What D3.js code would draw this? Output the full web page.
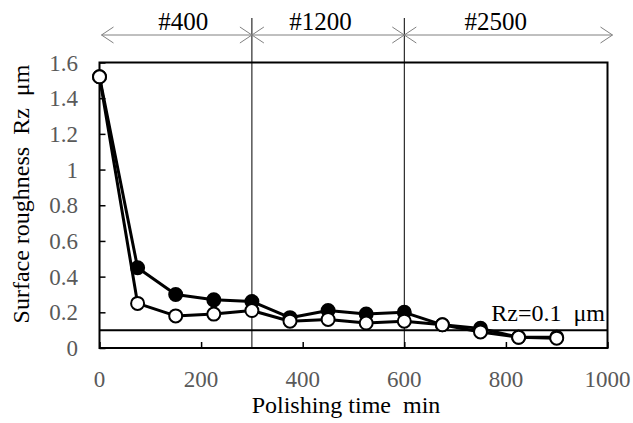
<!DOCTYPE html>
<html><head><meta charset="utf-8">
<script src="https://cdn.jsdelivr.net/npm/d3@7"></script>
<style>
html,body{margin:0;padding:0;background:#fff;}
svg text{font-family:'Liberation Serif','Times New Roman',Times,'DejaVu Serif',serif;white-space:pre;}
</style></head>
<body>
<svg id="c" width="633" height="423" style="display:block"></svg>
<script>
const times = [0,75,150,225,300,375,450,525,600,675,750,825,900];
const filledSeries = [1.52,0.45,0.30,0.27,0.26,0.17,0.21,0.19,0.20,0.13,0.11,0.06,0.06];
const openSeries = [1.52,0.25,0.18,0.19,0.21,0.15,0.16,0.14,0.15,0.13,0.09,0.06,0.055];
const xTicks = [0,200,400,600,800,1000];
const yTicks = [0,0.2,0.4,0.6,0.8,1,1.2,1.4,1.6];
const stageBounds = [0,300,600,1000];
const stageLabels = ["#400","#1200","#2500"];
const stageLabelPos = [165,435,780];
const refLevel = 0.1;
const refLabel = "Rz=0.1  \u03bcm";
const xTitle = "Polishing time  min";
const yTitle = "Surface roughness  Rz  \u03bcm";

const svg = d3.select("#c");
const x = d3.scaleLinear().domain([0,1000]).range([99.5,607.5]);
const y = d3.scaleLinear().domain([0,1.6]).range([348,62.5]);
const FT = 23, FL = 25, FA = 24;

svg.selectAll("line.sep").data(stageBounds.slice(1,3)).enter().append("line")
  .attr("x1",d=>x(d)).attr("x2",d=>x(d)).attr("y1",18).attr("y2",y(0))
  .attr("stroke","#000").attr("stroke-width",1);

const ay = 35;
const grey = "#808080";
stageBounds.slice(0,3).forEach((s,i)=>{
  const e = stageBounds[i+1];
  const x1 = x(s)+ (i===0?2:0), x2 = x(e) + (i===2?5:0);
  const g = svg.append("g").attr("stroke",grey).attr("stroke-width",1).attr("fill","none");
  g.append("line").attr("x1",x1).attr("x2",x2).attr("y1",ay).attr("y2",ay);
  g.append("path").attr("d",`M${x1+12},${ay-8}L${x1},${ay}L${x1+12},${ay+8}`);
  g.append("path").attr("d",`M${x2-12},${ay-8}L${x2},${ay}L${x2-12},${ay+8}`);
  svg.append("text").attr("x",x(stageLabelPos[i])).attr("y",30)
    .attr("text-anchor","middle").attr("font-size",FL).attr("fill","#000").text(stageLabels[i]);
});

svg.append("line").attr("x1",x(0)).attr("x2",x(1000)).attr("y1",y(refLevel)).attr("y2",y(refLevel))
  .attr("stroke","#000").attr("stroke-width",2);
svg.append("text").attr("x",605).attr("y",y(refLevel)-9).attr("text-anchor","end")
  .attr("font-size",FA).attr("fill","#000").text(refLabel);

svg.append("rect").attr("x",x(0)).attr("y",y(1.6)).attr("width",x(1000)-x(0)).attr("height",y(0)-y(1.6))
  .attr("fill","none").attr("stroke","#000").attr("stroke-width",2);

const xAxis = svg.append("g").attr("transform",`translate(0,${y(0)})`)
  .call(d3.axisTop(x).tickValues(xTicks).tickSize(6).tickFormat(""));
xAxis.select(".domain").remove();
xAxis.selectAll("line").attr("stroke","#000").attr("stroke-width",1.5);
svg.selectAll("text.xt").data(xTicks).enter().append("text").attr("class","xt")
  .attr("x",d=>x(d)).attr("y",387).attr("text-anchor","middle").attr("font-size",FT)
  .attr("fill","#595959").text(d=>d);

const yAxis = svg.append("g").attr("transform",`translate(${x(0)},0)`)
  .call(d3.axisRight(y).tickValues(yTicks).tickSize(6).tickFormat(""));
yAxis.select(".domain").remove();
yAxis.selectAll("line").attr("stroke","#000").attr("stroke-width",1.5);
svg.selectAll("text.yt").data(yTicks).enter().append("text").attr("class","yt")
  .attr("x",78).attr("y",d=>y(d)).attr("dy","0.35em").attr("text-anchor","end").attr("font-size",FT)
  .attr("fill","#595959").text(d=>d===0||d===1?String(d):d.toFixed(1));

svg.append("text").attr("x",346).attr("y",413).attr("text-anchor","middle").attr("font-size",FA)
  .attr("fill","#000").text(xTitle);
svg.append("text").attr("transform","translate(29,194) rotate(-90)").attr("text-anchor","middle")
  .attr("font-size",FA).attr("fill","#000").text(yTitle);

const line = d3.line().x((d,i)=>x(times[i])).y(d=>y(d));
function drawSeries(vals, fill){
  svg.append("path").datum(vals).attr("d",line).attr("fill","none")
    .attr("stroke","#000").attr("stroke-width",3).attr("stroke-linejoin","round");
  svg.selectAll(null).data(vals).enter().append("circle")
    .attr("cx",(d,i)=>x(times[i])).attr("cy",d=>y(d)).attr("r",6.5)
    .attr("fill",fill).attr("stroke","#000").attr("stroke-width",2);
}
drawSeries(filledSeries,"#000");
drawSeries(openSeries,"#fff");
</script>
</body></html>
